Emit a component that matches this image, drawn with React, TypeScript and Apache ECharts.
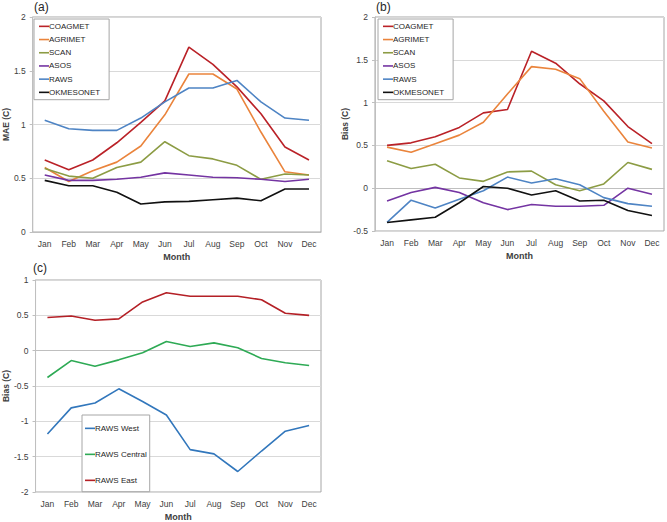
import React, { useEffect, useRef } from "react";
import * as echarts from "echarts";

const months = ["Jan", "Feb", "Mar", "Apr", "May", "Jun", "Jul", "Aug", "Sep", "Oct", "Nov", "Dec"];

// Panel (a) MAE (C)
const maeCOAGMET = [0.67, 0.58, 0.67, 0.83, 1.02, 1.22, 1.72, 1.56, 1.35, 1.1, 0.79, 0.67];
const maeAGRIMET = [0.6, 0.47, 0.57, 0.65, 0.8, 1.09, 1.47, 1.47, 1.33, 0.93, 0.56, 0.53];
const maeSCAN = [0.59, 0.52, 0.5, 0.6, 0.65, 0.84, 0.71, 0.68, 0.62, 0.49, 0.54, 0.53];
const maeASOS = [0.53, 0.48, 0.48, 0.49, 0.51, 0.55, 0.53, 0.51, 0.505, 0.49, 0.47, 0.49];
const maeRAWS = [1.04, 0.96, 0.945, 0.945, 1.06, 1.21, 1.34, 1.34, 1.41, 1.21, 1.06, 1.04];
const maeOKMESONET = [0.48, 0.43, 0.43, 0.37, 0.26, 0.28, 0.285, 0.3, 0.315, 0.29, 0.4, 0.4];

// Panel (b) Bias (C)
const biasCOAGMET = [0.5, 0.53, 0.6, 0.71, 0.88, 0.92, 1.6, 1.46, 1.22, 1.02, 0.72, 0.52];
const biasAGRIMET = [0.48, 0.42, 0.52, 0.62, 0.77, 1.1, 1.42, 1.39, 1.28, 0.9, 0.54, 0.47];
const biasSCAN = [0.32, 0.23, 0.28, 0.12, 0.08, 0.19, 0.2, 0.04, -0.03, 0.05, 0.3, 0.22];
const biasASOS = [-0.15, -0.05, 0.01, -0.05, -0.17, -0.25, -0.19, -0.21, -0.21, -0.2, 0.0, -0.07];
const biasRAWS = [-0.4, -0.14, -0.23, -0.13, -0.03, 0.13, 0.06, 0.11, 0.04, -0.11, -0.18, -0.21];
const biasOKMESONET = [-0.4, -0.37, -0.34, -0.17, 0.02, 0.0, -0.08, -0.03, -0.15, -0.14, -0.26, -0.32];

// Panel (c) Bias (C) by RAWS region
const rawsWest = [-1.18, -0.81, -0.74, -0.54, -0.72, -0.91, -1.4, -1.46, -1.71, -1.42, -1.14, -1.06];
const rawsCentral = [-0.38, -0.14, -0.22, -0.13, -0.03, 0.13, 0.06, 0.11, 0.04, -0.11, -0.17, -0.21];
const rawsEast = [0.47, 0.49, 0.43, 0.45, 0.69, 0.82, 0.77, 0.77, 0.77, 0.72, 0.53, 0.5];

const networkNames = ["COAGMET", "AGRIMET", "SCAN", "ASOS", "RAWS", "OKMESONET"];
const networkColors = ["#BA2228", "#EA843C", "#8C9C44", "#7434A2", "#4E84C4", "#111111"];
const rawsNames = ["RAWS West", "RAWS Central", "RAWS East"];
const rawsColors = ["#3277BC", "#2EAA55", "#B42026"];

const FONT = "'Liberation Sans', Arial, sans-serif";

export default function App() {
  const ref = useRef<HTMLDivElement>(null);

  useEffect(() => {
    document.body.style.margin = "0";
    if (!ref.current) return;
    const chart = echarts.init(ref.current, null, { renderer: "svg" });

    const grids = [
      { left: 32, top: 17, width: 289, height: 215 },
      { left: 375, top: 17, width: 289, height: 214 },
      { left: 32, top: 280, width: 289, height: 215 },
    ].map((g) => ({ ...g, show: true, borderColor: "#a6a6a6", borderWidth: 1, backgroundColor: "transparent" }));

    const xAxis = [0, 1, 2].map((i) => ({
      type: "category",
      gridIndex: i,
      data: months,
      boundaryGap: true,
      axisLine: { show: true, lineStyle: { color: "#bfbfbf" } },
      axisTick: { show: false },
      axisLabel: { color: "#404040", fontSize: 8.5, fontFamily: FONT, margin: 7 },
      name: "Month",
      nameLocation: "middle",
      nameGap: 20,
      nameTextStyle: { color: "#404040", fontSize: 9, fontWeight: "bold", fontFamily: FONT },
    }));

    const yCommon = {
      type: "value",
      axisLine: { show: true, lineStyle: { color: "#bfbfbf" } },
      axisTick: { show: true, length: 3, lineStyle: { color: "#bfbfbf" } },
      axisLabel: { color: "#404040", fontSize: 8.5, fontFamily: FONT, margin: 7 },
      splitLine: { show: true, lineStyle: { color: "#d9d9d9", width: 1 } },
      nameLocation: "middle",
      nameRotate: 90,
      nameTextStyle: { color: "#404040", fontSize: 8.5, fontWeight: "bold", fontFamily: FONT },
    };

    const yAxis = [
      { ...yCommon, gridIndex: 0, min: 0, max: 2, interval: 0.5, name: "MAE (C)", nameGap: 16 },
      { ...yCommon, gridIndex: 1, min: -0.5, max: 2, interval: 0.5, name: "Bias (C)", nameGap: 24 },
      { ...yCommon, gridIndex: 2, min: -2, max: 1, interval: 0.5, name: "Bias (C)", nameGap: 21 },
    ];

    const mk = (name: string, data: number[], color: string, idx: number) => ({
      type: "line",
      name,
      data,
      xAxisIndex: idx,
      yAxisIndex: idx,
      symbol: "none",
      lineStyle: { color, width: 1.6 },
      itemStyle: { color },
      z: 3,
    });

    const maeData = [maeCOAGMET, maeAGRIMET, maeSCAN, maeASOS, maeRAWS, maeOKMESONET];
    const biasData = [biasCOAGMET, biasAGRIMET, biasSCAN, biasASOS, biasRAWS, biasOKMESONET];
    const rawsData = [rawsWest, rawsCentral, rawsEast];

    const series: any[] = [];
    networkNames.forEach((n, i) => series.push(mk(n, maeData[i], networkColors[i], 0)));
    networkNames.forEach((n, i) => series.push(mk(n, biasData[i], networkColors[i], 1)));
    rawsNames.forEach((n, i) => series.push(mk(n, rawsData[i], rawsColors[i], 2)));

    const legendCommon = {
      orient: "vertical",
      icon: "rect",
      itemWidth: 10,
      itemHeight: 1.6,
      itemGap: 2.5,
      borderColor: "#a6a6a6",
      borderWidth: 1,
      backgroundColor: "#ffffff",
      selectedMode: false,
      textStyle: { color: "#262626", fontSize: 8, fontFamily: FONT, padding: [0, 0, 0, -5], lineHeight: 10.7 },
    };

    const legend = [
      { ...legendCommon, left: 34, top: 19, padding: [2, 9, 2, 5], data: networkNames },
      { ...legendCommon, left: 378, top: 19, padding: [2, 9, 2, 5], data: networkNames },
      {
        ...legendCommon,
        left: 82,
        top: 415,
        itemGap: 15.3,
        padding: [8, 3, 6, 3],
        data: rawsNames,
      },
    ];

    const labelStyle = { fill: "#262626", fontSize: 12, fontFamily: FONT };
    const graphic = [
      { type: "text", left: 34, top: 1, style: { ...labelStyle, text: "(a)" } },
      { type: "text", left: 376, top: 1, style: { ...labelStyle, text: "(b)" } },
      { type: "text", left: 33, top: 262, style: { ...labelStyle, text: "(c)" } },
    ];

    chart.setOption({
      animation: false,
      backgroundColor: "#ffffff",
      textStyle: { fontFamily: FONT },
      grid: grids,
      xAxis,
      yAxis,
      series,
      legend,
      graphic,
    });

    return () => chart.dispose();
  }, []);

  return <div ref={ref} style={{ width: 667, height: 522 }} />;
}
